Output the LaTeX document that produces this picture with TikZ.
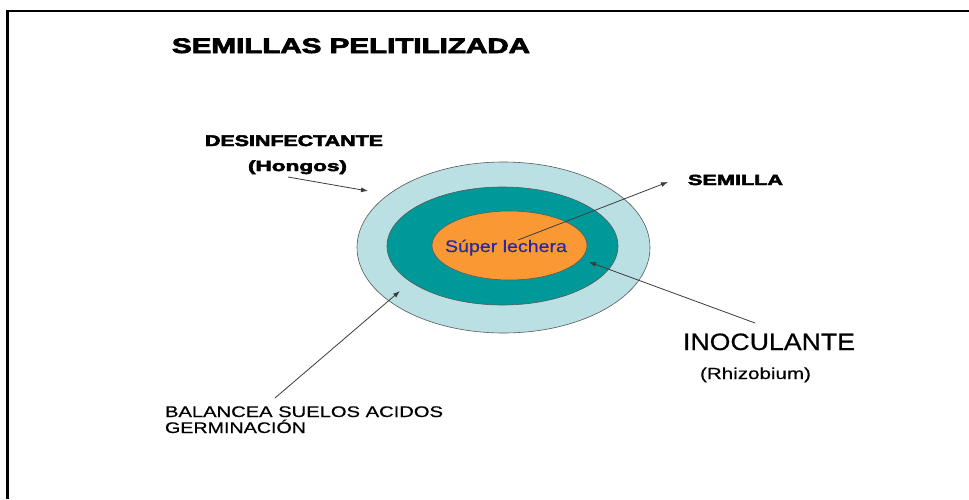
\documentclass[tikz,border=0pt]{standalone}
\usepackage{fontspec}
\usepackage{graphicx}
\setmainfont[FakeBold=0.5]{Liberation Sans}
\newfontfamily\heavyfont[FakeBold=3]{Liberation Sans}
\usetikzlibrary{shapes.geometric,arrows.meta}
\definecolor{lightring}{RGB}{186,224,228}
\definecolor{tealring}{RGB}{0,153,153}
\definecolor{coreorange}{RGB}{250,153,51}
\definecolor{coretext}{RGB}{40,40,160}
\definecolor{arrowgray}{RGB}{60,60,60}
% #1 width, #2 font size, #3 text (horizontal stretch to width)
\newcommand\fitw[3]{\resizebox{#1pt}{\height}{\fontsize{#2}{#2}\selectfont #3}}
\begin{document}
\begin{tikzpicture}[x=1pt,y=-1pt,
  ring/.style={ellipse,draw=gray!70!black,line width=0.6pt,inner sep=0pt},
  lbl/.style={inner sep=0pt,outer sep=0pt,anchor=base west},
  ptr/.style={draw=arrowgray,line width=0.8pt,-{Latex[length=7pt,width=5pt]}},
  frame/.style={draw=black}]
\useasboundingbox (0,0) rectangle (969,499);
\fill[white] (0,0) rectangle (969,499);
% frame
\draw[frame,line width=2.6pt] (7.5,499) -- (7.5,11) -- (123,11);
\draw[frame,line width=1.1pt] (123,11) -- (877,11);
\draw[frame,line width=2.6pt] (877,11) -- (969,11);
% rings
\node[ring,fill=lightring,minimum width=293pt,minimum height=171pt] (outer) at (503.5,247.5) {};
\node[ring,fill=tealring,minimum width=231pt,minimum height=118pt] (middle) at (502.5,246) {};
\node[ring,fill=coreorange,minimum width=155pt,minimum height=69pt] (core) at (509.5,245.5) {};
\node[inner sep=0pt,anchor=base,text=coretext] (coretxt) at (506,252) {\fitw{122}{16.8}{Súper lechera}};
% labels
\node[lbl] (title) at (172,53) {\fitw{358}{21}{\heavyfont\bfseries SEMILLAS PELITILIZADA}};
\node[lbl] (desinf) at (205,146) {\fitw{178}{15.4}{\heavyfont\bfseries DESINFECTANTE}};
\node[lbl] (hongos) at (248,171) {\fitw{99}{14.7}{\heavyfont\bfseries (Hongos)}};
\node[lbl] (semilla) at (688,185) {\fitw{95}{14.7}{\heavyfont\bfseries SEMILLA}};
\node[lbl] (inoc) at (683,350) {\fitw{172}{23.7}{INOCULANTE}};
\node[lbl] (rhizo) at (700,379) {\fitw{111}{16}{(Rhizobium)}};
\node[lbl] (balan) at (165,417) {\fitw{278}{15.4}{BALANCEA SUELOS ACIDOS}};
\node[lbl] (germ) at (165,433) {\fitw{141}{15.4}{GERMINACIÓN}};
% arrow end points
\coordinate (hongosTail) at (288,177);
\coordinate (outerTip) at (368,191);
\coordinate (coreTail) at (518,240);
\coordinate (semillaTip) at (668,182);
\coordinate (inocTail) at (755,323);
\coordinate (middleTip) at (589,262);
\coordinate (balanTail) at (275,398);
\coordinate (outerLowTip) at (400,291);
\draw[ptr] (hongosTail) -- (outerTip);
\draw[ptr] (coreTail) -- (semillaTip);
\draw[ptr] (inocTail) -- (middleTip);
\draw[ptr] (balanTail) -- (outerLowTip);
\end{tikzpicture}
\end{document}
